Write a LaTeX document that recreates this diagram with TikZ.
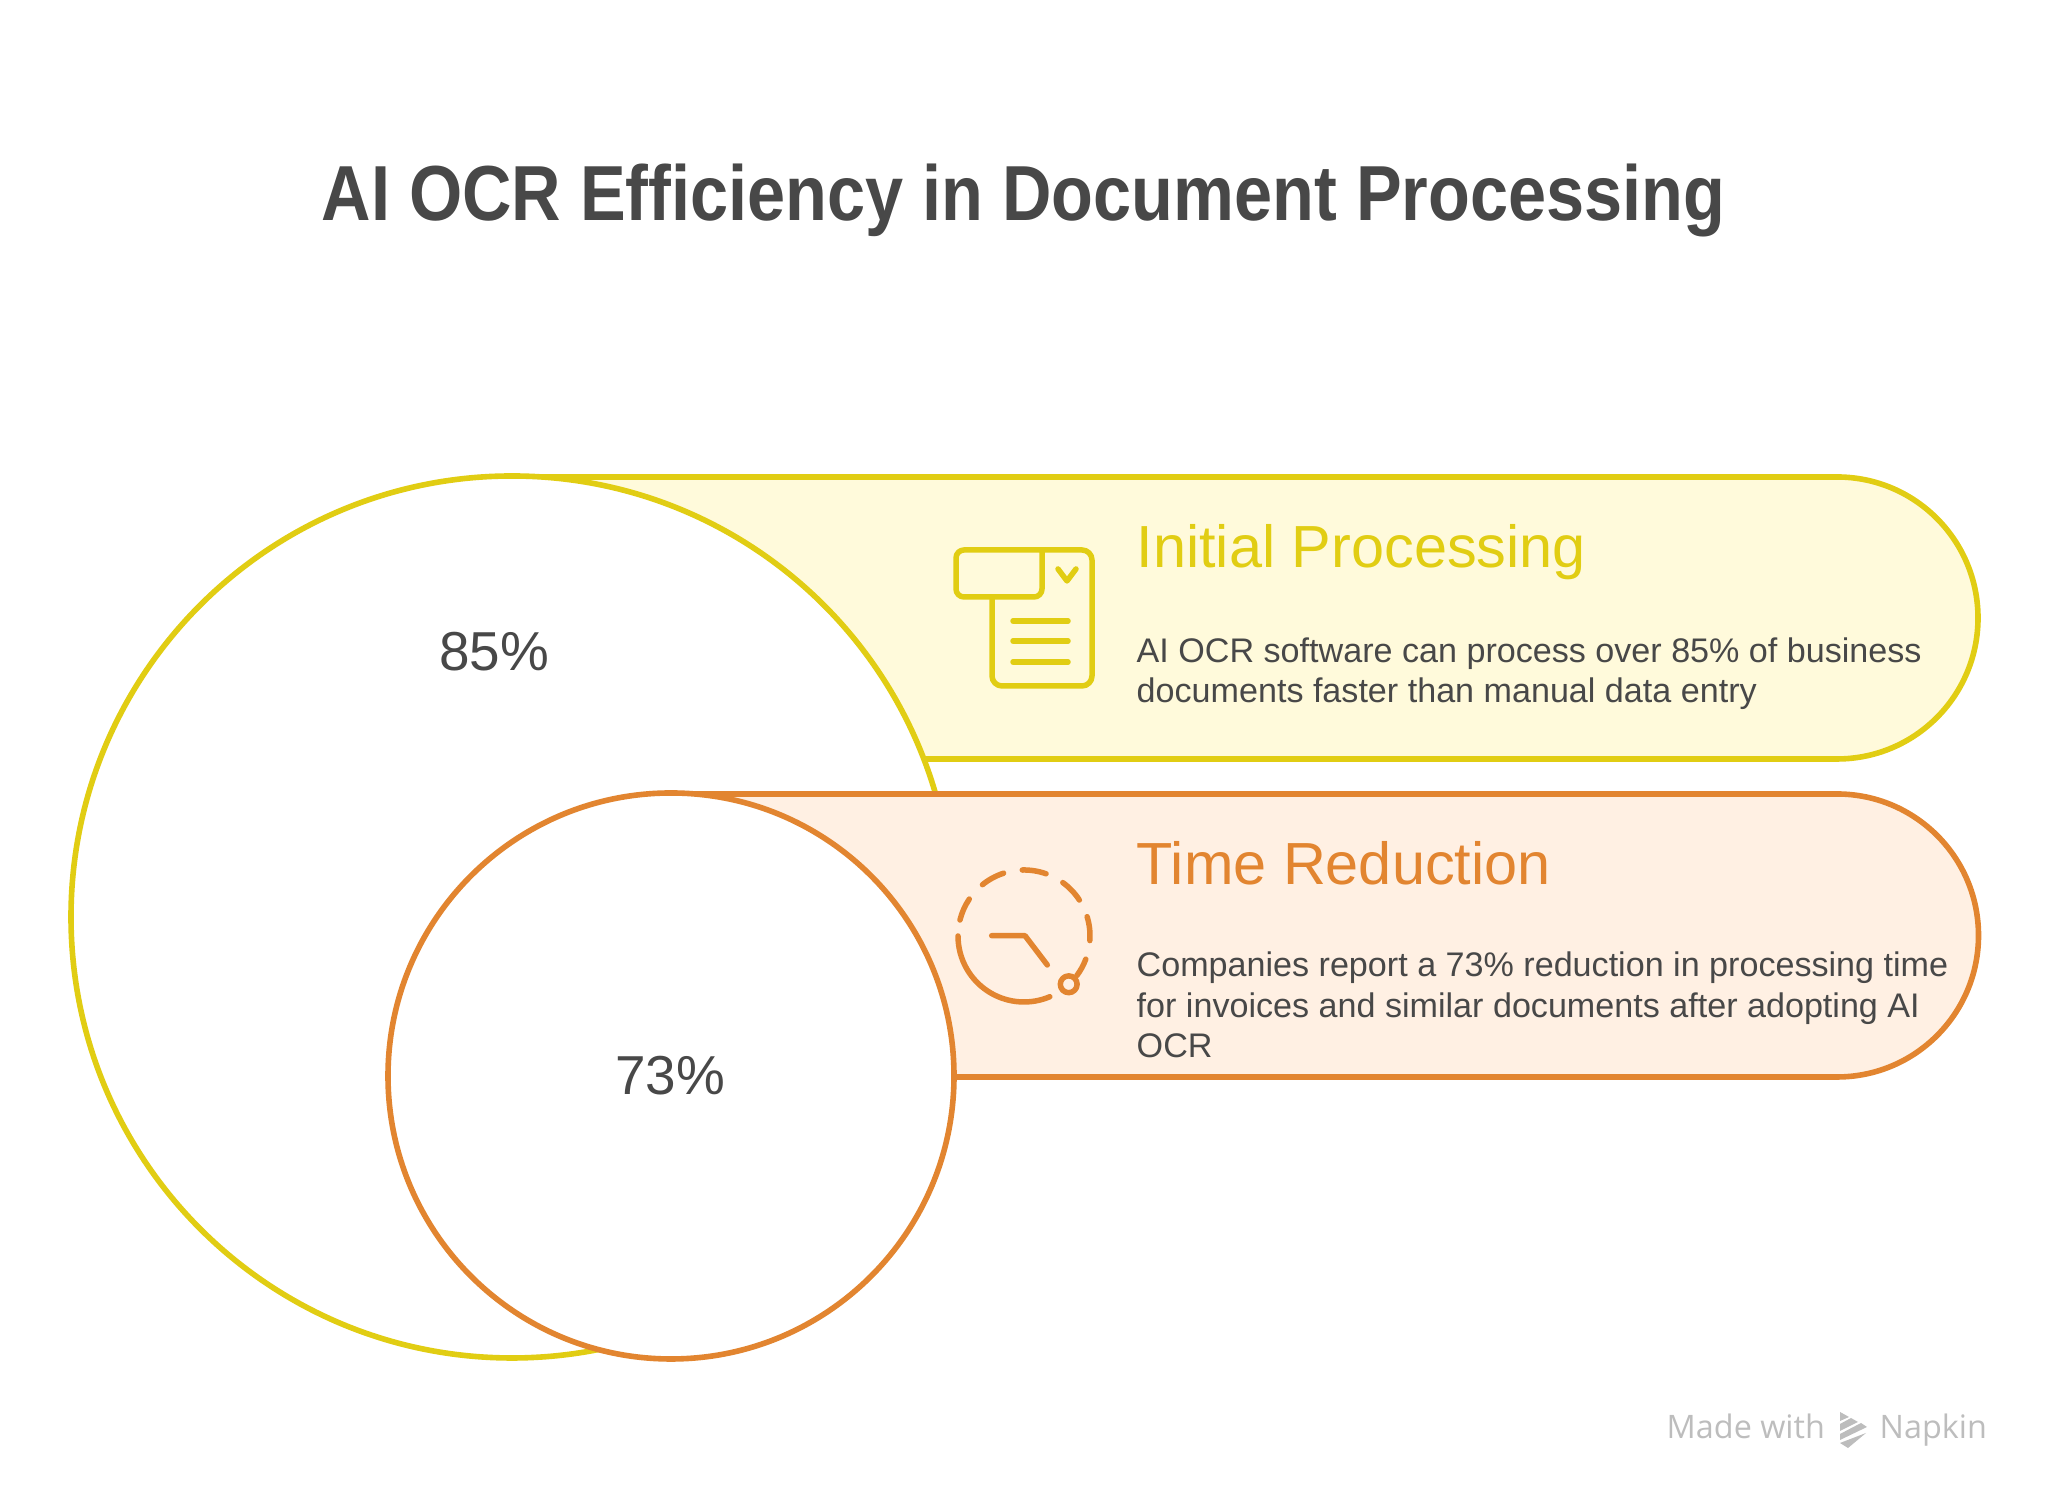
\documentclass[tikz,border=0pt]{standalone}
\usepackage{fontspec}
\setmainfont{Liberation Sans}
\newfontfamily\titlefont[FakeStretch=0.877]{Liberation Sans}
\newfontfamily\markfont{Open Sans}
\usetikzlibrary{calc}
\definecolor{ocrink}{HTML}{484848}
\definecolor{ocryellow}{HTML}{E1CD13}
\definecolor{ocrpale}{HTML}{FFFADB}
\definecolor{ocrorange}{HTML}{E28530}
\definecolor{ocrpeach}{HTML}{FFF0E3}
\definecolor{ocrmark}{HTML}{BDBDBD}
\def\clockarc(#1:#2){\draw[clockline] ($(1024,565)+({66*cos(#1)},{66*sin(#1)})$) arc (#1:#2:66);}
\tikzset{
	yellowline/.style={draw=ocryellow, line width=0.56mm},
	orangeline/.style={draw=ocrorange, line width=0.56mm},
	docline/.style={draw=ocryellow, line width=0.55mm, line cap=round, line join=round},
	clockline/.style={draw=ocrorange, line width=0.55mm, line cap=round, line join=round},
	headtext/.style={anchor=base west, inner sep=0pt, font=\fontsize{16.9}{19}\selectfont},
	bodytext/.style={anchor=base west, inner sep=0pt, align=left, text=ocrink, font=\fontsize{9.7}{11.55}\selectfont},
	pcttext/.style={inner sep=0pt, text=ocrink, font=\fontsize{15.6}{19}\selectfont},
	marktext/.style={inner sep=0pt, anchor=base west, text=ocrmark, font=\markfont\fontsize{9.2}{11}\selectfont}
}
\begin{document}
\begin{tikzpicture}[x=0.01cm, y=0.01cm]
	%%%%% START %%%%%
	\useasboundingbox (0, 0) rectangle (2048, 1501);

	\node[inner sep=0pt, anchor=base, text=ocrink, font=\titlefont\fontsize{22.2}{26}\selectfont\bfseries] (title) at (1023.5, 1280) {AI OCR Efficiency in Document Processing};

	% upper band and big circle
	\path[yellowline, fill=ocrpale] (512, 1024) -- (1837, 1024) arc (90:-90:141) -- (512, 742) -- cycle;
	\path[yellowline, fill=white] (512, 584) circle (441);

	% lower band and small circle
	\path[orangeline, fill=ocrpeach] (671, 707) -- (1837, 707) arc (90:-90:141.5) -- (671, 424) -- cycle;
	\path[orangeline, fill=white] (671, 425) circle (283);

	\node[pcttext] (bigpct) at (494, 849) {85\%};
	\node[pcttext] (smallpct) at (670, 425) {73\%};

	% document icon
	\draw[docline, rounded corners=1mm] (1042, 951) -- (1092, 951) -- (1092, 815) -- (992, 815) -- (992, 904);
	\draw[docline, rounded corners=0.8mm] (1042, 951) -- (956, 951) -- (956, 904) -- (1042, 904) -- (1042, 951);
	\draw[docline] (1058, 932) -- (1067, 920) -- (1076, 932);
	\foreach \liney in {880, 860, 839} {
		\draw[docline] (1013, \liney) -- (1068, \liney);
	}

	% clock icon
	\foreach \from/\to in {180/293, 166/146, 129/108, 91.5/70.5, 54/33, 17/-4, -20.6/-37} {
		\clockarc(\from:\to)
	}
	\draw[clockline] (1068.7, 516.7) circle (8.4);
	\draw[clockline] (991.7, 565.3) -- (1025, 565.3) -- (1047.3, 536);

	% labels
	\node[headtext, text=ocryellow] (inithead) at (1136, 933) {Initial Processing};
	\node[bodytext] (initbody) at (1136, 798) {AI OCR software can process over 85\% of business\\documents faster than manual data entry};
	\node[headtext, text=ocrorange] (timehead) at (1136, 616) {Time Reduction};
	\node[bodytext] (timebody) at (1136, 443) {Companies report a 73\% reduction in processing time\\for invoices and similar documents after adopting AI\\OCR};

	% footer mark
	\node[marktext] (madewith) at (1666, 62) {Made with};
	\node[marktext] (napkin) at (1879, 62) {Napkin};
	\fill[ocrmark] (1840, 89) -- (1849, 84) -- (1840, 80) -- cycle;
	\fill[ocrmark] (1840, 77) -- (1851, 83) -- (1858, 79) -- (1840, 70) -- cycle;
	\fill[ocrmark] (1840, 67) -- (1861, 78) -- (1867, 74) -- (1840, 61) -- cycle;
	\fill[ocrmark] (1840, 58) -- (1866, 68) -- (1848, 53) -- cycle;
	%%%%% END %%%%%
\end{tikzpicture}
\end{document}
